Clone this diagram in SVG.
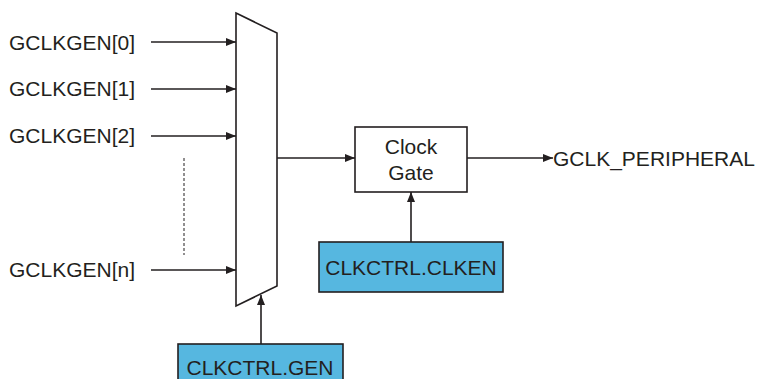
<svg xmlns="http://www.w3.org/2000/svg" width="758" height="379" viewBox="0 0 758 379">
<style>
text{font-family:"Liberation Sans",Arial,sans-serif;font-size:21px;fill:#231f20}
.ln{stroke:#231f20;stroke-width:1.6;fill:none}
.box{fill:#fff;stroke:#231f20;stroke-width:1.6}
.reg{fill:#56b7e0;stroke:#231f20;stroke-width:1.6}
</style>
<defs>
<marker id="ah" viewBox="0 0 10 8" refX="10" refY="4" markerWidth="10" markerHeight="8" markerUnits="userSpaceOnUse" orient="auto">
<path d="M0,0 L10,4 L0,8 Z" fill="#231f20"/>
</marker>
</defs>
<rect width="758" height="379" fill="#fff"/>
<g id="labels">
<text x="9" y="50">GCLKGEN[0]</text>
<text x="9" y="96">GCLKGEN[1]</text>
<text x="9" y="143">GCLKGEN[2]</text>
<text x="9" y="277">GCLKGEN[n]</text>
</g>
<g id="mux">
<polygon class="box" points="236,13 277,33 277,286 236,306"/>
</g>
<g id="clockgate">
<rect class="box" x="355" y="127" width="112" height="65"/>
<text x="411" y="154" text-anchor="middle">Clock</text>
<text x="411" y="180" text-anchor="middle">Gate</text>
</g>
<g id="clken">
<rect class="reg" x="319" y="242" width="184" height="50"/>
<text x="411" y="275" text-anchor="middle">CLKCTRL.CLKEN</text>
</g>
<g id="gen">
<rect class="reg" x="178" y="344" width="165" height="45"/>
<text x="260" y="375" text-anchor="middle">CLKCTRL.GEN</text>
</g>
<g id="output">
<text x="553" y="166">GCLK_PERIPHERAL</text>
</g>
<g id="connectors">
<line class="ln" x1="151" y1="42" x2="236" y2="42" marker-end="url(#ah)"/>
<line class="ln" x1="151" y1="89" x2="236" y2="89" marker-end="url(#ah)"/>
<line class="ln" x1="151" y1="136" x2="236" y2="136" marker-end="url(#ah)"/>
<line class="ln" x1="151" y1="270" x2="236" y2="270" marker-end="url(#ah)"/>
<line x1="184" y1="158" x2="184" y2="255" stroke="#231f20" stroke-width="1" stroke-dasharray="3,2"/>
<line class="ln" x1="277" y1="158" x2="355" y2="158" marker-end="url(#ah)"/>
<line class="ln" x1="467" y1="158" x2="553" y2="158" marker-end="url(#ah)"/>
<line class="ln" x1="411" y1="242" x2="411" y2="192" marker-end="url(#ah)"/>
<line class="ln" x1="261" y1="344" x2="261" y2="295" marker-end="url(#ah)"/>
</g>
</svg>
